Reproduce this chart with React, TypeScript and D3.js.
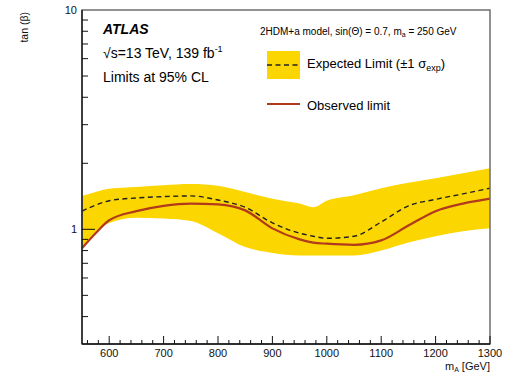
// @ts-nocheck
import * as d3 from "d3";
import { useMemo } from "react";

// m_A scan points [GeV]
const massPoints = [550, 575, 600, 650, 700, 750, 800, 850, 900, 950, 975, 1000, 1050, 1100, 1150, 1200, 1250, 1300];
// tan(beta) limits
const bandUpper = [1.42, 1.48, 1.53, 1.56, 1.59, 1.61, 1.58, 1.48, 1.38, 1.31, 1.26, 1.35, 1.43, 1.54, 1.63, 1.71, 1.8, 1.9];
const expectedLimit = [1.21, 1.29, 1.35, 1.39, 1.41, 1.42, 1.36, 1.26, 1.07, 0.96, 0.93, 0.91, 0.93, 1.08, 1.28, 1.37, 1.45, 1.54];
const observedLimit = [0.82, 0.96, 1.1, 1.21, 1.28, 1.31, 1.3, 1.22, 1.01, 0.9, 0.87, 0.86, 0.85, 0.89, 1.04, 1.21, 1.31, 1.38];
const bandLower = [0.82, 0.97, 1.07, 1.13, 1.12, 1.09, 0.96, 0.83, 0.78, 0.76, 0.76, 0.76, 0.76, 0.8, 0.87, 0.93, 0.98, 1.01];

const xTickLabels = [600, 700, 800, 900, 1000, 1100, 1200, 1300];
const yTickLabels = [1, 10];

const W = 508;
const H = 373;
const margin = { left: 82, right: 18, top: 10, bottom: 29 };
const FONT = "'Liberation Sans', Arial, Helvetica, sans-serif";
const YELLOW = "#fcd600";
const RED = "#b23a1c";

const App = () => {
    const xScale = useMemo(
        () => d3.scaleLinear().domain([550, 1300]).range([margin.left, W - margin.right]),
        []
    );
    const yScale = useMemo(
        () => d3.scaleLog().domain([0.3, 10]).range([H - margin.bottom, margin.top]),
        []
    );

    const pts = massPoints.map((m, i) => ({
        m,
        lo: bandLower[i],
        hi: bandUpper[i],
        exp: expectedLimit[i],
        obs: observedLimit[i],
    }));

    const band = d3
        .area()
        .x((d) => xScale(d.m))
        .y0((d) => yScale(d.lo))
        .y1((d) => yScale(d.hi))
        .curve(d3.curveMonotoneX);
    const expLine = d3
        .line()
        .x((d) => xScale(d.m))
        .y((d) => yScale(d.exp))
        .curve(d3.curveMonotoneX);
    const obsLine = d3
        .line()
        .x((d) => xScale(d.m))
        .y((d) => yScale(d.obs))
        .curve(d3.curveMonotoneX);

    const x0 = xScale.range()[0];
    const x1 = xScale.range()[1];
    const y0 = yScale.range()[0];
    const y1 = yScale.range()[1];

    // minor ticks every 20 GeV, major every 100
    const xTicks = d3.range(560, 1301, 20);
    // log minor ticks
    const yTicks = [0.4, 0.5, 0.6, 0.7, 0.8, 0.9, 1, 2, 3, 4, 5, 6, 7, 8, 9];

    return (
        <svg
            width={W}
            height={H}
            style={{ position: "absolute", left: 0, top: 0, background: "#fff" }}
            fontFamily={FONT}
        >
            <path d={band(pts)} fill={YELLOW} />
            <path d={expLine(pts)} fill="none" stroke="#222" strokeWidth={1.4} strokeDasharray="5,3.5" />
            <path d={obsLine(pts)} fill="none" stroke={RED} strokeWidth={2.2} />

            {/* frame */}
            <rect x={x0} y={y1} width={x1 - x0} height={y0 - y1} fill="none" stroke="#6e6e6e" strokeWidth={1.5} />
            <line x1={x0} x2={x0} y1={y1} y2={y0} stroke="#111" strokeWidth={1.3} />
            <line x1={x0} x2={x1} y1={y0} y2={y0} stroke="#111" strokeWidth={1.3} />

            {xTicks.map((t) => {
                const major = t % 100 === 0;
                return (
                    <line
                        key={`xt-${t}`}
                        x1={xScale(t)}
                        x2={xScale(t)}
                        y1={y0}
                        y2={y0 - (major ? 8 : 4)}
                        stroke="#111"
                        strokeWidth={1}
                    />
                );
            })}
            {xTickLabels.map((t) => (
                <text key={`xl-${t}`} x={xScale(t)} y={y0 + 13} fontSize={11} textAnchor="middle" fill="#111">
                    {t}
                </text>
            ))}

            {yTicks.map((t) => {
                const major = t === 1;
                return (
                    <line
                        key={`yt-${t}`}
                        x1={x0}
                        x2={x0 + (major ? 13 : 6)}
                        y1={yScale(t)}
                        y2={yScale(t)}
                        stroke="#111"
                        strokeWidth={1}
                    />
                );
            })}
            {yTickLabels.map((t) => (
                <text key={`yl-${t}`} x={x0 - 5} y={yScale(t) + 4} fontSize={11} textAnchor="end" fill="#111">
                    {t}
                </text>
            ))}

            {/* axis titles */}
            <text
                transform={`translate(28, ${y1 + 2}) rotate(-90)`}
                fontSize={10.5}
                textAnchor="end"
                fill="#111"
            >
                tan (β)
            </text>
            <text x={x1} y={370} fontSize={11} textAnchor="end" fill="#111">
                m<tspan fontSize={7} dy={2}>A</tspan>
                <tspan dy={-2}> [GeV]</tspan>
            </text>

            {/* ATLAS label */}
            <text x={103} y={34} fontSize={14} fontWeight="bold" fontStyle="italic" fill="#000">
                ATLAS
            </text>
            <text x={103} y={58} fontSize={14} fill="#000">
                √s=13 TeV, 139 fb<tspan fontSize={9} dy={-6}>-1</tspan>
            </text>
            <text x={103} y={82} fontSize={14} fill="#000">
                Limits at 95% CL
            </text>

            {/* legend */}
            <text x={260} y={35} fontSize={10} fill="#000">
                2HDM+a model, sin(Θ) = 0.7, m<tspan fontSize={7} dy={2}>a</tspan>
                <tspan dy={-2}> = 250 GeV</tspan>
            </text>
            <rect x={267} y={51} width={33} height={28} fill={YELLOW} />
            <line x1={267} x2={300} y1={65} y2={65} stroke="#222" strokeWidth={1.4} strokeDasharray="5,3.5" />
            <text x={307} y={68} fontSize={13} fill="#000">
                Expected Limit (±1 σ<tspan fontSize={9} dy={3}>exp</tspan>
                <tspan dy={-3}>)</tspan>
            </text>
            <line x1={267} x2={300} y1={104} y2={104} stroke={RED} strokeWidth={2} />
            <text x={307} y={110} fontSize={13} fill="#000">
                Observed limit
            </text>
        </svg>
    );
};

export default App;
